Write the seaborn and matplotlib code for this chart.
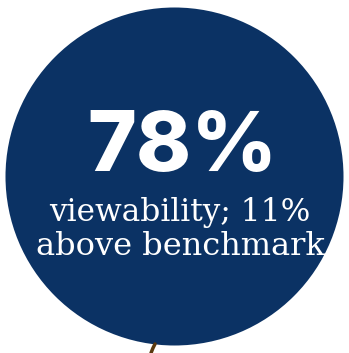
import matplotlib
matplotlib.use("Agg")
import matplotlib.pyplot as plt
import seaborn as sns
from matplotlib.patches import Circle
from matplotlib import font_manager as fm
import os

# Data
headline_value = [78]           # percent viewability
benchmark_delta = [11]          # percent above benchmark
labels = ["viewability", "above benchmark"]

sns.set_theme(style="white")
plt.rcParams["font.family"] = ["DejaVu Sans"]

def find_font(*names):
    files = {os.path.basename(f): f for f in fm.findSystemFonts()}
    for n in names:
        if n in files:
            return files[n]
    return None

black_path = find_font("Inter-ExtraBold.otf", "Inter-Black.otf", "Lato-Black.ttf")
head_fp = fm.FontProperties(fname=black_path, size=60) if black_path else fm.FontProperties(family="DejaVu Sans", weight="bold", size=60)

W, H = 349, 353
fig = plt.figure(figsize=(W / 100, H / 100), dpi=100)
ax = fig.add_axes([0, 0, 1, 1])
ax.set_xlim(0, W)
ax.set_ylim(H, 0)
ax.set_aspect("equal")
ax.axis("off")
fig.patch.set_facecolor("white")

navy = "#0B3264"
ax.add_patch(Circle((174.5, 176.5), 169, facecolor=navy, edgecolor="none"))

# small brown twig at bottom
sns.lineplot(x=[151, 153, 155], y=[353, 348, 344], color="#5a3a10", lw=2.5, ax=ax, legend=False)

ax.text(182.5, 171.5, f"{headline_value[0]}%", ha="center", va="baseline",
        fontproperties=head_fp, color="white")
ax.text(180, 221, f"{labels[0]}; {benchmark_delta[0]}%", ha="center", va="baseline",
        fontsize=22.5, color="white", family=["DejaVu Serif"])
ax.text(180, 255, labels[1], ha="center", va="baseline",
        fontsize=23, color="white", family=["DejaVu Serif"])

fig.savefig("out.png", dpi=100, facecolor="white")
